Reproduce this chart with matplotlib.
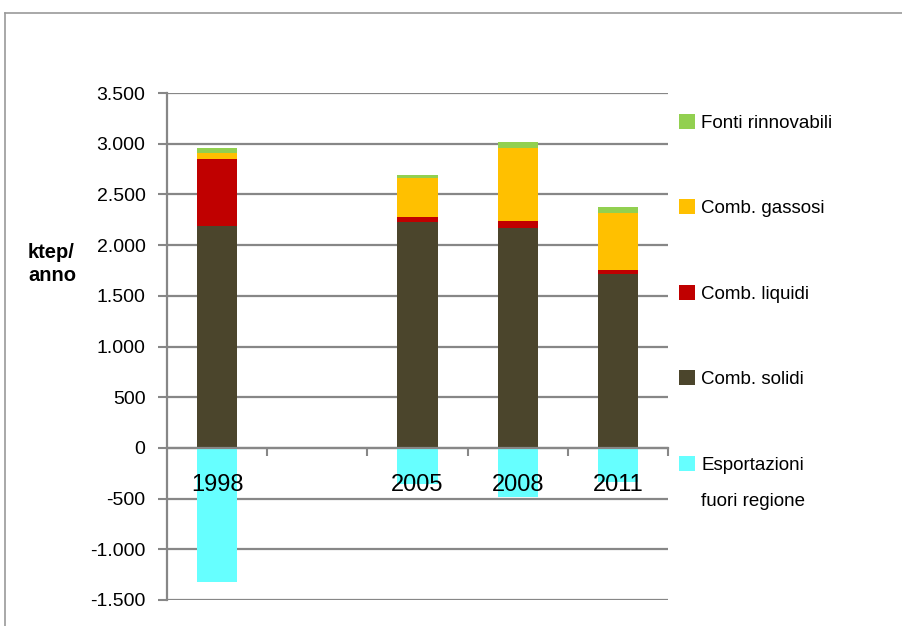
import matplotlib
matplotlib.use("Agg")
import matplotlib.pyplot as plt
from matplotlib.lines import Line2D
from matplotlib.ticker import FixedLocator, FuncFormatter

# data (ktep/anno), second slot is empty in the original chart
years = ["1998", "", "2005", "2008", "2011"]
solidi = [2186, 0, 2226, 2166, 1711]
liquidi = [666, 0, 49, 69, 47]
gassosi = [60, 0, 386, 722, 563]
rinnovabili = [49, 0, 26, 60, 57]
esportazioni = [-1318, 0, -352, -485, -336]

yticks = list(range(-1500, 3501, 500))

colors = {
    "solidi": "#4B452C",
    "liquidi": "#C00000",
    "gassosi": "#FFC000",
    "rinnovabili": "#92D050",
    "esportazioni": "#66FFFF",
}
grid_col = "#878787"

plt.rcParams["font.family"] = ["Liberation Sans", "DejaVu Sans"]

W, H = 903, 626
fig = plt.figure(figsize=(W / 100, H / 100), dpi=100)
ax = fig.add_axes([167 / W, 1 - 600 / H, (668 - 167) / W, (600 - 93) / H])

x = list(range(len(years)))
bw = 0.4
b1 = solidi
b2 = [a + b for a, b in zip(b1, liquidi)]
b3 = [a + b for a, b in zip(b2, gassosi)]

h_sol = ax.bar(x, solidi, bw, color=colors["solidi"], zorder=2)
h_liq = ax.bar(x, liquidi, bw, bottom=b1, color=colors["liquidi"], zorder=2)
h_gas = ax.bar(x, gassosi, bw, bottom=b2, color=colors["gassosi"], zorder=2)
h_ren = ax.bar(x, rinnovabili, bw, bottom=b3, color=colors["rinnovabili"], zorder=2)
h_exp = ax.bar(x, esportazioni, bw, color=colors["esportazioni"], zorder=2)

ax.set_xlim(-0.5, len(years) - 0.5)
ax.set_ylim(-1500, 3500)

# y axis
ax.yaxis.set_major_locator(FixedLocator(yticks))
ax.yaxis.set_major_formatter(FuncFormatter(lambda v, p: f"{int(v):,}".replace(",", ".")))
ax.tick_params(axis="y", direction="out", length=6.5, width=1.5, color=grid_col,
               pad=9, labelsize=14, labelcolor="black")
ax.grid(axis="y", color=grid_col, linewidth=1.6, zorder=0)
ax.set_axisbelow(True)

# x axis at zero, ticks between categories, labels at centres (drawn over the bars)
ax.spines["bottom"].set_position(("data", 0))
ax.xaxis.set_major_locator(FixedLocator([i + 0.5 for i in x]))
ax.xaxis.set_major_formatter(FuncFormatter(lambda v, p: ""))
ax.xaxis.set_minor_locator(FixedLocator(x))
ax.xaxis.set_minor_formatter(FuncFormatter(lambda v, p: years[int(round(v))]))
ax.tick_params(axis="x", which="major", direction="out", length=6, width=1.5, color=grid_col)
ax.tick_params(axis="x", which="minor", length=0, pad=19, labelsize=17)
ax.xaxis.set_zorder(4)

for s in ["top", "right"]:
    ax.spines[s].set_visible(False)
for s in ["left", "bottom"]:
    ax.spines[s].set_color(grid_col)
    ax.spines[s].set_linewidth(1.6)
    ax.spines[s].set_zorder(3)

fig.text(28 / W, 1 - 264 / H, "ktep/\nanno", fontsize=14.5, fontweight="bold",
         ha="left", va="center", linespacing=1.3)

leg = fig.legend(
    [h_ren, h_gas, h_liq, h_sol, h_exp],
    ["Fonti rinnovabili", "Comb. gassosi", "Comb. liquidi", "Comb. solidi", "Esportazioni"],
    loc="upper left", bbox_to_anchor=(679 / W, 1 - 114 / H), frameon=False,
    fontsize=13.5, handlelength=0.85, handleheight=0.85, handletextpad=0.35,
    labelspacing=3.6, borderpad=0, borderaxespad=0,
)

fig.canvas.draw()
bb = leg.get_texts()[-1].get_window_extent()
fig.text(bb.x0 / W, (bb.y0 - 36) / H, "fuori regione", fontsize=13.5, ha="left", va="bottom")

# outer frame of the original chart area
fig.add_artist(Line2D([5 / W, 5 / W], [0, 1 - 13 / H], color="#9a9a9a", lw=1.2))
fig.add_artist(Line2D([5 / W, 1], [1 - 13 / H, 1 - 13 / H], color="#9a9a9a", lw=1.2))

fig.savefig("out.png", dpi=100)
